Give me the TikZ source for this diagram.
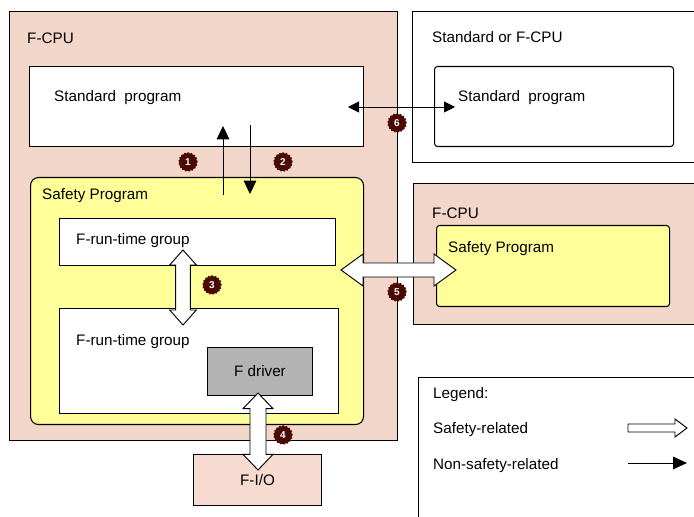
\documentclass[tikz,border=0pt]{standalone}
\usepackage{fontspec}
\setmainfont{Liberation Sans}
\usepackage{tikz}
\usetikzlibrary{positioning, arrows.meta, calc}
\definecolor{cpuPink}{HTML}{F2D6C9}
\definecolor{ioPink}{HTML}{F7DBD0}
\definecolor{safeYel}{HTML}{FFFF99}
\definecolor{drvGray}{HTML}{B3B3B3}
\definecolor{badgeRed}{HTML}{4A0A00}
\tikzset{
  box/.style={draw, line width=0.9pt, anchor=north west, inner sep=0pt, font=\fontsize{13}{15}\selectfont},
  sz/.style 2 args={minimum width=#1*0.03cm, minimum height=#2*0.03cm},
  lbl/.style={anchor=west, inner sep=0pt, font=\fontsize{13}{15}\selectfont},
  badge/.style={circle, fill=badgeRed, draw=badgeRed, line width=1.2pt, dash pattern=on 1.2pt off 1.6pt,
    text=white, font=\bfseries\fontsize{8.5}{8.5}\selectfont, minimum size=0.54cm, inner sep=0pt},
  nonsafe/.style={line width=0.8pt, -{Triangle[length=0.4cm, width=0.38cm]}},
  safe/.style={draw, fill=white, line width=0.8pt, line join=miter}
}
\newcommand{\safearrow}[5]{%
  \coordinate (saP) at ($(#1)!#3!(#2)$);
  \coordinate (saQ) at ($(#2)!#3!(#1)$);
  \draw[safe] (#1) -- ($(saP)!#4!90:(#2)$) -- ($(saP)!#5!90:(#2)$)
    -- ($(saQ)!#5!-90:(#1)$) -- ($(saQ)!#4!-90:(#1)$) -- (#2)
    -- ($(saQ)!#4!90:(#1)$) -- ($(saQ)!#5!90:(#1)$)
    -- ($(saP)!#5!-90:(#2)$) -- ($(saP)!#4!-90:(#2)$) -- cycle;}

\begin{document}
\begin{tikzpicture}[x=0.03cm, y=-0.03cm]
  \useasboundingbox (0,0) rectangle (694,517);
  \clip (0,0) rectangle (694,517);
  % local F-CPU
  \node[box, fill=cpuPink, sz={388}{429}] (fcpu) at (9,11) {};
  \node[lbl] (fcpuLbl) at (27,38) {F-CPU};
  \node[box, fill=white, sz={334}{80}] (stdprog) at (29,66) {};
  \node[lbl] (stdLbl) at (54,98) {Standard\ \ program};
  \node[box, fill=safeYel, rounded corners=0.24cm, sz={333}{247}] (safeprog) at (30,177) {};
  \node[lbl] (safeLbl) at (42,196) {Safety Program};
  \node[box, fill=white, sz={276}{47}] (rtA) at (59,218) {};
  \node[lbl] (rtALbl) at (76,241) {F-run-time group};
  \node[box, fill=white, sz={279}{105}] (rtB) at (59,308) {};
  \node[lbl] (rtBLbl) at (76,342) {F-run-time group};
  \node[box, fill=drvGray, sz={105}{48}] (fdriver) at (207,347) {F driver};
  \node[box, fill=ioPink, sz={128}{51}] (fio) at (193,454) {F-I/O};
  % partner CPUs
  \node[box, fill=white, sz={300}{151}] (remcpu) at (412,11) {};
  \node[lbl] (remcpuLbl) at (432,37) {Standard or F-CPU};
  \node[box, fill=white, rounded corners=0.09cm, sz={239}{80}] (remstd) at (434,66) {};
  \node[lbl] (remstdLbl) at (458,98) {Standard\ \ program};
  \node[box, fill=cpuPink, sz={300}{141}] (fcpuB) at (413,183) {};
  \node[lbl] (fcpuBLbl) at (432,213) {F-CPU};
  \node[box, fill=safeYel, rounded corners=0.09cm, sz={233}{81}] (safeB) at (436,225) {};
  \node[lbl] (safeBLbl) at (448,249) {Safety Program};
  % legend
  \node[box, fill=white, sz={300}{160}] (legend) at (418,377) {};
  \node[lbl] (legLbl) at (433,395) {Legend:};
  \node[lbl] (legSafe) at (433,430) {Safety-related};
  \node[lbl] (legNon) at (433,466) {Non-safety-related};

  \coordinate (upS) at (223,195);  \coordinate (upE) at (223,126);
  \coordinate (dnS) at (250,125);  \coordinate (dnE) at (250,194);
  \coordinate (a6L) at (348,107);  \coordinate (a6R) at (455,107);
  \coordinate (a3T) at (183,250);  \coordinate (a3B) at (183,325);
  \coordinate (a4T) at (258,393);  \coordinate (a4B) at (258,470);
  \coordinate (a5L) at (341,270);  \coordinate (a5R) at (456,270);
  \coordinate (lgS) at (628,428);  \coordinate (lgE) at (687,428);
  \coordinate (lnS) at (628,463);  \coordinate (lnE) at (687,463);

  \draw[nonsafe] (upS) -- (upE);
  \draw[nonsafe] (dnS) -- (dnE);
  \draw[nonsafe, {Triangle[length=0.33cm, width=0.33cm]}-{Triangle[length=0.33cm, width=0.33cm]}] (a6L) -- (a6R);
  \safearrow{a3T}{a3B}{0.45cm}{0.4cm}{0.22cm}
  \safearrow{a4T}{a4B}{0.47cm}{0.45cm}{0.24cm}
  \safearrow{a5L}{a5R}{0.66cm}{0.48cm}{0.21cm}
  \draw[safe] (lgE) -- ($(lgE)+(-12,-9)$) -- ($(lgE)+(-12,-4)$) -- ($(lgS)+(0,-4)$)
    -- ($(lgS)+(0,4)$) -- ($(lgE)+(-12,4)$) -- ($(lgE)+(-12,9)$) -- cycle;
  \draw[nonsafe, -{Triangle[length=0.42cm, width=0.38cm]}] (lnS) -- (lnE);

  \foreach \n/\x/\y in {1/188/162, 2/283/162, 3/212/285, 4/283/435, 5/397/292, 6/397/123}
    \node[badge] (b\n) at (\x,\y) {\n};
\end{tikzpicture}
\end{document}
